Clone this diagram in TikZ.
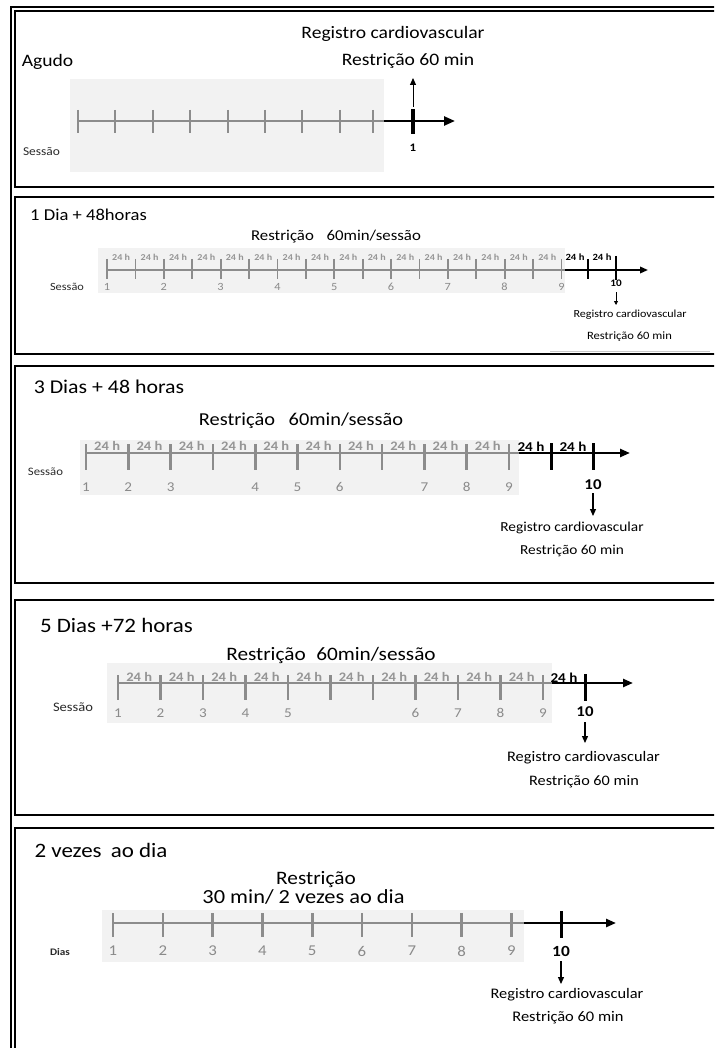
\documentclass[tikz,border=0pt]{standalone}
\usepackage{fontspec}
\setmainfont[FakeStretch=1.12]{Carlito}
\usetikzlibrary{arrows.meta}
\definecolor{bgg}{HTML}{F2F2F2}
\definecolor{lng}{HTML}{8C8C8C}
\definecolor{txg}{HTML}{959595}
\definecolor{nmg}{HTML}{8A8A8A}
\definecolor{dk}{HTML}{2A2A2A}
\definecolor{lg}{HTML}{C8C8C8}
\newcommand{\fs}[1]{\fontsize{#1}{#1}\selectfont}
\begin{document}
\begin{tikzpicture}[x=1pt,y=-1pt,
  frame/.style={draw=black,line width=1.7pt},
  bgbox/.style={fill=bgg,draw=none},
  gl/.style={draw=lng,line width=2pt},
  gt/.style={draw=lng,line width=2.2pt},
  bl/.style={draw=black,line width=2.2pt,-{Triangle[length=10pt,width=8pt]}},
  bt/.style={draw=black,line width=3pt},
  dn/.style={draw=black,line width=1.2pt,-{Triangle[length=7pt,width=6pt]}},
  txt/.style={inner sep=0pt,anchor=center},
  hg/.style={txt,text=txg,font=\bfseries\fs{#1}},
  hb/.style={txt,text=black,font=\bfseries\fs{#1}},
  ng/.style={txt,text=nmg,font=\fs{#1}},
]
\useasboundingbox (0,0) rectangle (714,1048);
\clip (0,0) rectangle (714,1048);
\fill[white] (0,0) rectangle (714,1048);

% outer frame
\draw[frame] (11,1060) -- (11,7) -- (720,7);
% panel frames
\draw[frame] (720,11) -- (15,11) -- (15,187) -- (720,187);
\draw[frame] (720,197) -- (15,197) -- (15,354) -- (720,354);
\draw[frame] (720,366) -- (15,366) -- (15,583) -- (720,583);
\draw[frame] (720,600) -- (15,600) -- (15,815) -- (720,815);
\draw[frame] (720,828) -- (15,828) -- (15,1060);

%% Panel 1
\fill[bgbox] (70,79) rectangle (384,172);
\node[txt,font=\fs{17.5}] (t1) at (47.5,62) {Agudo};
\node[txt,font=\fs{17.5}] (r1a) at (393,34) {Registro cardiovascular};
\node[txt,font=\fs{17.5}] (r1b) at (408,61) {Restrição 60 min};
\node[txt,text=dk,font=\fs{12}] (s1) at (41.5,152) {Sessão};
\draw[gl,line width=2.4pt] (78,121) -- (384,121);
\foreach \x in {78,115,153,190,228,265,302,340,373} \draw[gt,line width=2.4pt] (\x,110) -- (\x,133);
\coordinate (e1a) at (384,121);
\coordinate (e1b) at (455,121);
\draw[bl,line width=2.4pt,-{Triangle[length=11pt,width=9pt]}] (e1a) -- (e1b);
\draw[bt,line width=3.2pt] (413,109) -- (413,134);
\node[hb=11.5] (n1) at (413,148) {1};
\coordinate (u1a) at (413,107);
\coordinate (u1b) at (413,78);
\draw[dn,line width=1pt] (u1a) -- (u1b);

%% Panel 2
\fill[bgbox] (98,248) rectangle (565,293);
\node[txt,font=\fs{16.6}] (t2) at (88.5,215) {1 Dia + 48horas};
\node[txt,font=\fs{15}] (c2) at (336,237) {Restrição\hspace{0.85em}60min/sessão};
\node[txt,text=dk,font=\fs{11}] (s2) at (67,287) {Sessão};
\draw[gl] (107,270) -- (565,270);
\foreach \k in {0,...,16} \draw[gt,line width=1.8pt] ({107+28.4*\k},259) -- ({107+28.4*\k},279);
\foreach \k in {0,...,15} \node[hg=9] (h2\k) at ({107+28.4*(\k+0.5)},257) {24 h};
\foreach \j in {0,...,8} \node[ng=11] (n2\j) at ({107+56.8*\j},287) {\pgfmathparse{int(\j+1)}\pgfmathresult};
\coordinate (e2a) at (565,270);
\coordinate (e2b) at (648,270);
\draw[bl,line width=1.8pt,-{Triangle[length=8pt,width=6.5pt]}] (e2a) -- (e2b);
\draw[bt,line width=2.4pt] (588,259) -- (588,279);
\draw[bt,line width=2.4pt] (616,256) -- (616,280);
\node[hb=9.5] (hb2a) at (575,257) {24 h};
\node[hb=9.5] (hb2b) at (602,257) {24 h};
\node[hb=10] (ten2) at (616,283) {10};
\coordinate (d2a) at (616,292);
\coordinate (d2b) at (616,305);
\draw[dn,line width=0.8pt,-{Triangle[length=4pt,width=4pt]}] (d2a) -- (d2b);
\node[txt,font=\fs{10.8}] (r2a) at (630,315) {Registro cardiovascular};
\node[txt,font=\fs{11.2}] (r2b) at (629.5,337) {Restrição 60 min};
\coordinate (g2a) at (550,351);
\coordinate (g2b) at (710,351);
\draw[lg,line width=1pt] (g2a) -- (g2b);

%% Panel 3
\fill[bgbox] (80,440) rectangle (519,495);
\node[txt,font=\fs{19.5}] (t3) at (109,387) {3 Dias + 48 horas};
\node[txt,font=\fs{18.2}] (c3) at (301,421) {Restrição\hspace{0.75em}60min/sessão};
\node[txt,text=dk,font=\fs{11.4}] (s3) at (45.5,472) {Sessão};
\draw[gl,line width=2.4pt] (86,453) -- (519,453);
\foreach \k in {0,...,10} \draw[gt,line width=2.6pt] ({86+42.3*\k},444) -- ({86+42.3*\k},470);
\foreach \k in {0,...,9} \node[hg=13] (h3\k) at ({86+42.3*(\k+0.5)},446) {24 h};
\foreach \t/\n in {0/1,1/2,2/3,4/4,5/5,6/6,8/7,9/8,10/9} \node[ng=13.5] (n3\n) at ({86+42.3*\t},487) {\n};
\coordinate (e3a) at (519,453);
\coordinate (e3b) at (630,453);
\draw[bl,line width=2.4pt] (e3a) -- (e3b);
\draw[bt] (551,443) -- (551,470);
\draw[bt] (593,443) -- (593,470);
\node[hb=13.5] (hb3a) at (531,447) {24 h};
\node[hb=13.5] (hb3b) at (573,447) {24 h};
\node[hb=15] (ten3) at (593,485) {10};
\coordinate (d3a) at (593,493);
\coordinate (d3b) at (593,516);
\draw[dn] (d3a) -- (d3b);
\node[txt,font=\fs{13.7}] (r3a) at (572,528) {Registro cardiovascular};
\node[txt,font=\fs{13.7}] (r3b) at (572,551) {Restrição 60 min};

%% Panel 4
\fill[bgbox] (107,663) rectangle (552,723);
\node[txt,font=\fs{20.5}] (t4) at (116.5,625) {5 Dias +72 horas};
\node[txt,font=\fs{19}] (c4) at (331,655) {Restrição\hspace{0.55em}60min/sessão};
\node[txt,text=dk,font=\fs{13}] (s4) at (73,707) {Sessão};
\draw[gl,line width=2.4pt] (118,683) -- (552,683);
\foreach \k in {0,...,10} \draw[gt,line width=2.6pt] ({118+42.5*\k},675) -- ({118+42.5*\k},700);
\foreach \k in {0,...,9} \node[hg=13] (h4\k) at ({118+42.5*(\k+0.5)},677) {24 h};
\foreach \t/\n in {0/1,1/2,2/3,3/4,4/5,7/6,8/7,9/8,10/9} \node[ng=13.5] (n4\n) at ({118+42.5*\t},713) {\n};
\coordinate (e4a) at (552,683);
\coordinate (e4b) at (633,683);
\draw[bl,line width=2.4pt] (e4a) -- (e4b);
\draw[bt] (585,674) -- (585,701);
\node[hb=13.5] (hb4a) at (564,678) {24 h};
\node[hb=15] (ten4) at (585,712) {10};
\coordinate (d4a) at (585,722);
\coordinate (d4b) at (585,743);
\draw[dn] (d4a) -- (d4b);
\node[txt,font=\fs{14.6}] (r4a) at (583.5,758) {Registro cardiovascular};
\node[txt,font=\fs{14.5}] (r4b) at (584,782) {Restrição 60 min};

%% Panel 5
\fill[bgbox] (102,910) rectangle (524,962);
\node[txt,font=\fs{20.5}] (t5) at (101,850) {2 vezes\hspace{0.45em}ao dia};
\node[txt,font=\fs{19}] (c5a) at (316,880) {Restrição};
\node[txt,font=\fs{20}] (c5b) at (303.5,897) {30 min/ 2 vezes ao dia};
\node[txt,text=dk,font=\bfseries\fs{10}] (s5) at (60,952) {Dias};
\draw[gl,line width=2.4pt] (113,923) -- (524,923);
\foreach \k in {0,...,8} \draw[gt,line width=2.6pt] ({113+49.8*\k},913) -- ({113+49.8*\k},937);
\foreach \k in {0,...,8} \node[ng=15] (n5\k) at ({113+49.8*\k},951) {\pgfmathparse{int(\k+1)}\pgfmathresult};
\coordinate (e5a) at (524,923);
\coordinate (e5b) at (616,923);
\draw[bl,line width=2.4pt] (e5a) -- (e5b);
\draw[bt] (561,911) -- (561,938);
\node[hb=15.5] (ten5) at (561,951) {10};
\coordinate (d5a) at (561,961);
\coordinate (d5b) at (561,984);
\draw[dn] (d5a) -- (d5b);
\node[txt,font=\fs{14.6}] (r5a) at (567,995) {Registro cardiovascular};
\node[txt,font=\fs{14.7}] (r5b) at (568,1018) {Restrição 60 min};
\end{tikzpicture}
\end{document}
